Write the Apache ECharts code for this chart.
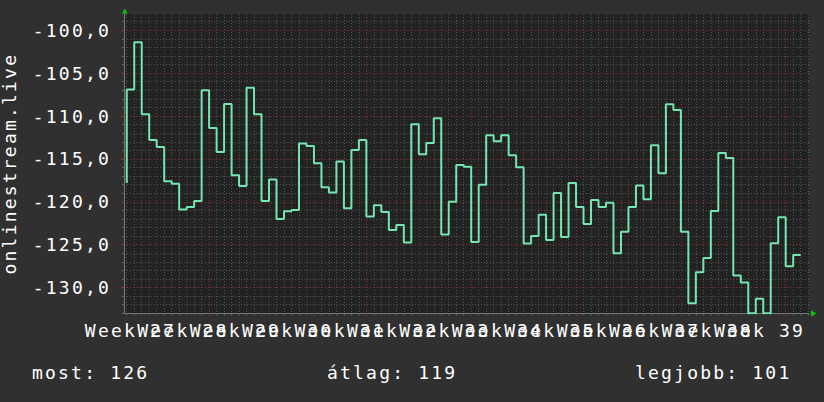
<!DOCTYPE html>
<html><head><meta charset="utf-8">
<script src="https://cdn.jsdelivr.net/npm/echarts@6.0.0/dist/echarts.min.js"></script>
<style>
html,body{margin:0;padding:0;background:#303030;}
#c{width:824px;height:402px;}
#c text{letter-spacing:2.2px;}
</style>
</head><body><div id="c"></div>
<script>
// daily values (value i covers day interval [i-1, i]); index 0 is the starting point
const values = [
  -117.8,
  -106.9, -101.4, -109.8, -112.8, -113.6, -117.6, -117.9, -120.9, -120.6, -119.9,
  -107.0, -111.4, -114.2, -108.6, -116.9, -118.15, -106.7, -109.8, -119.9, -117.4,
  -122.0, -121.1, -120.95, -113.2, -113.5, -115.5, -118.3, -118.9, -115.3, -120.75,
  -113.95, -112.8, -121.7, -120.4, -121.2, -123.3, -122.7, -124.75, -110.96, -114.46,
  -113.14, -110.26, -123.8, -120.0, -115.7, -115.9, -124.7, -118.0, -112.24, -112.94,
  -112.24, -114.57, -115.97, -124.87, -123.98, -121.5, -124.45, -118.97, -124.1, -117.8,
  -120.6, -122.6, -119.8, -120.6, -120.1, -126.0, -123.5, -120.6, -118.1, -119.7,
  -113.4, -116.67, -108.63, -109.3, -123.5, -131.83, -128.2, -126.55, -121.07, -114.3,
  -114.9, -128.6, -129.4, -133.0, -131.3, -133.0, -124.83, -121.8, -127.5, -126.2
];
const weekLines = [4, 11, 18, 25, 32, 39, 46, 53, 60, 67, 74, 81, 88];
const weekLabelPos = [0.5, 7.5, 14.5, 21.5, 28.5, 35.5, 42.5, 49.5, 56.5, 63.5, 70.5, 77.5, 84.5];
const weekNumbers = [27, 28, 29, 30, 31, 32, 33, 34, 35, 36, 37, 38, 39];
const yMajorTicks = [-130, -125, -120, -115, -110, -105, -100];
const yAxisTitle = 'onlinestream.live';
const summaryLabels = ['most', 'átlag', 'legjobb'];

const dayGrid = [];
for (let d = 0; d <= 91; d++) dayGrid.push(d);
const yMinorTicks = [];
for (let v = -133; v <= -99; v++) yMinorTicks.push(v);
const labelsEven = weekLabelPos.filter((p, i) => i % 2 === 0);
const labelsOdd = weekLabelPos.filter((p, i) => i % 2 === 1);

const X_MIN = -0.367, X_MAX = 91.11, Y_MIN = -133.0, Y_MAX = -98.1;
const FONT = 'DejaVu Sans Mono';
const minorLine = {show: true, lineStyle: {color: '#525252', width: 1, type: [1, 2]}};
const majorLine = {show: true, lineStyle: {color: '#843232', width: 1, type: [1, 2]}};

const seriesData = values.map((v, i) => [i, v]);
const last = values[values.length - 1];
const best = Math.max.apply(null, values.slice(1));
const avg = values.slice(1).reduce((a, b) => a + b, 0) / (values.length - 1);
const summaryValues = [Math.round(-last), Math.round(-avg), Math.round(-best)];

function weekLabelAxis(customValues) {
  return {type: 'value', position: 'bottom', min: X_MIN, max: X_MAX,
    axisLine: {show: false, onZero: false}, axisTick: {show: false}, splitLine: {show: false},
    axisLabel: {show: true, customValues: customValues, hideOverlap: false, margin: 8,
      showMinLabel: true, showMaxLabel: true,
      color: '#ffffff', fontFamily: FONT, fontSize: 18,
      formatter: (v) => 'Week ' + weekNumbers[Math.round((v - 0.5) / 7)]}};
}

const chart = echarts.init(document.getElementById('c'), null, {renderer: 'svg'});
chart.setOption({
  animation: false,
  backgroundColor: '#303030',
  grid: {left: 124, top: 14, width: 685, height: 299.3, show: true,
         backgroundColor: '#222222', borderWidth: 0, containLabel: false, outerBoundsMode: 'none'},
  xAxis: [
    {type: 'value', position: 'bottom', min: X_MIN, max: X_MAX,
     axisLine: {show: true, onZero: false, lineStyle: {color: '#7a7a7a', width: 1}},
     axisTick: {show: true, length: 2, customValues: dayGrid, lineStyle: {color: '#666666'}},
     axisLabel: {show: false}, splitLine: minorLine},
    {type: 'value', position: 'bottom', min: X_MIN, max: X_MAX,
     axisLine: {show: false, onZero: false},
     axisTick: {show: true, length: 3, customValues: weekLines, lineStyle: {color: '#843232'}},
     axisLabel: {show: false},
     splitLine: majorLine},
    weekLabelAxis(labelsEven),
    weekLabelAxis(labelsOdd)
  ],
  yAxis: [
    {type: 'value', position: 'left', min: Y_MIN, max: Y_MAX,
     name: yAxisTitle, nameLocation: 'middle', nameRotate: 90, nameGap: 106,
     nameTextStyle: {color: '#ffffff', fontFamily: FONT, fontSize: 18},
     axisLine: {show: true, onZero: false, lineStyle: {color: '#7a7a7a', width: 1}},
     axisTick: {show: true, length: 2, customValues: yMinorTicks, lineStyle: {color: '#666666'}},
     axisLabel: {show: false}, splitLine: minorLine},
    {type: 'value', position: 'left', min: Y_MIN, max: Y_MAX,
     axisLine: {show: false, onZero: false},
     axisTick: {show: true, length: 3, customValues: yMajorTicks, lineStyle: {color: '#843232'}},
     axisLabel: {show: true, customValues: yMajorTicks, hideOverlap: false, margin: 13,
       showMinLabel: true, showMaxLabel: true,
       color: '#ffffff', fontFamily: FONT, fontSize: 18,
       formatter: (v) => v.toFixed(1).replace('.', ',')},
     splitLine: majorLine}
  ],
  series: [{
    type: 'line', xAxisIndex: 0, yAxisIndex: 0, step: 'start',
    data: seriesData, showSymbol: false, symbol: 'none', clip: true,
    lineStyle: {color: '#74e6b0', width: 2}, z: 5
  }],
  graphic: [
    {type: 'polygon', shape: {points: [[122, 13.5], [127.5, 13.5], [124.7, 8.5]]}, style: {fill: '#00cc00'}, z: 10},
    {type: 'polygon', shape: {points: [[811, 310.5], [811, 316.5], [816.5, 313.5]]}, style: {fill: '#00cc00'}, z: 10},
    {type: 'text', left: 32, top: 363, style: {text: summaryLabels[0] + ': ' + summaryValues[0], fill: '#ffffff', font: '18px ' + FONT}},
    {type: 'text', left: 327, top: 363, style: {text: summaryLabels[1] + ': ' + summaryValues[1], fill: '#ffffff', font: '18px ' + FONT}},
    {type: 'text', left: 635, top: 363, style: {text: summaryLabels[2] + ': ' + summaryValues[2], fill: '#ffffff', font: '18px ' + FONT}}
  ]
});
</script>
</body></html>
